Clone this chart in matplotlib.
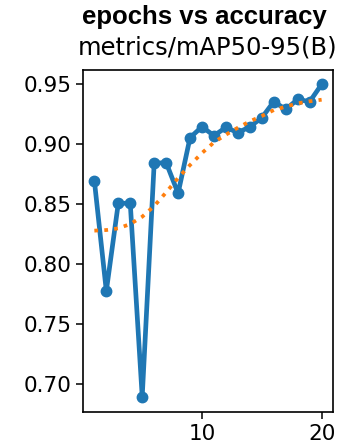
import matplotlib
matplotlib.use("Agg")
import matplotlib.pyplot as plt

# epoch numbers and metric values
epochs = list(range(1, 21))
map50_95 = [0.8694, 0.7775, 0.8506, 0.8506, 0.6894, 0.8839, 0.8845, 0.8589, 0.9053, 0.9144,
            0.9069, 0.9139, 0.9094, 0.9144, 0.9219, 0.9353, 0.9289, 0.9372, 0.9353, 0.9497]
smooth = [0.8278, 0.8283, 0.8297, 0.8333, 0.8394, 0.8483, 0.8597, 0.8717, 0.8825, 0.8925,
          0.9014, 0.9078, 0.9136, 0.9189, 0.9233, 0.9283, 0.9311, 0.9339, 0.9356, 0.9369]
yticks = [0.70, 0.75, 0.80, 0.85, 0.90, 0.95]
xticks = [10, 20]

W, H = 341, 447
fig = plt.figure(figsize=(W / 100, H / 100), dpi=100)
ax = fig.add_axes([83 / W, 1 - 412 / H, 250 / W, 342 / H])

ax.plot(epochs, map50_95, marker="o", color="#1f77b4", linewidth=3.4, markersize=7.5)
ax.plot(epochs, smooth, ":", color="#ff7f0e", linewidth=2.7)

ax.set_xticks(xticks)
ax.set_yticks(yticks)
ax.set_yticklabels([f"{v:.2f}" for v in yticks])
ax.set_ylim(0.95 - (412 - 84) / 1200, 0.95 + (84 - 70) / 1200)
ax.tick_params(labelsize=15.5, length=5, width=1.1)
for s in ax.spines.values():
    s.set_linewidth(1.2)

fig.text(204.5 / W, 1 - 24 / H, "epochs vs accuracy", ha="center", va="baseline",
         fontsize=18.5, fontweight="bold", family="Liberation Sans")
fig.text(207.5 / W, 1 - 55 / H, "metrics/mAP50-95(B)", ha="center", va="baseline",
         fontsize=17.5)

fig.savefig("out.png", dpi=100)
